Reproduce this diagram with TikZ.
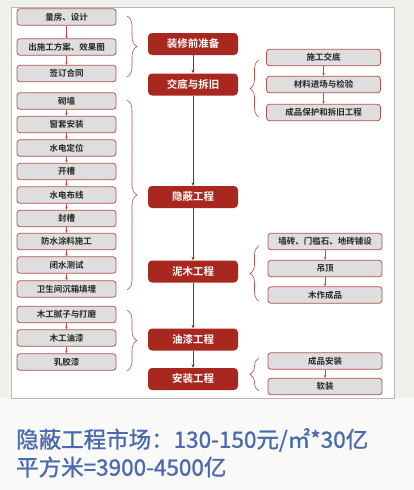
\documentclass[tikz,border=0pt]{standalone}
\usepackage{fontspec}
\setmainfont{Noto Sans CJK SC}[BoldFont={Noto Sans CJK SC Bold}]
\newfontfamily\notefont{Noto Sans CJK SC}[FakeBold=1.2]
\usetikzlibrary{arrows.meta,decorations.pathreplacing}
\definecolor{redbox}{HTML}{A8271F}
\definecolor{edgec}{HTML}{B5524A}
\definecolor{grayfill}{HTML}{DEDEDE}
\definecolor{bluetxt}{HTML}{4A6AB0}
\definecolor{bgc}{HTML}{F0F0ED}
\begin{document}
\begin{tikzpicture}[x=1pt,y=-1pt,
  graybox/.style={draw=edgec, line width=0.8pt, fill=grayfill, rounded corners=3pt,
    minimum height=16.5pt, inner sep=0pt, font=\fontsize{8.5}{9}\selectfont\bfseries, text=black!85},
  leftbox/.style={graybox, minimum width=99pt},
  rightbox/.style={graybox, minimum width=114pt},
  redbox/.style={fill=redbox, rounded corners=4pt, minimum width=90pt, minimum height=22pt,
    inner sep=0pt, font=\fontsize{10.5}{11}\selectfont\bfseries, text=white},
  arr/.style={draw=edgec, line width=0.6pt, -{Stealth[length=3pt,width=2.6pt]}},
  carr/.style={draw=redbox!90!black, line width=0.7pt, -{Stealth[length=3.5pt,width=3pt]}},
  brc/.style={draw=edgec, line width=0.6pt, decorate, decoration={brace, amplitude=#1}},
  note/.style={anchor=west, inner sep=0pt, text=bluetxt, font=\notefont\fontsize{22.5}{24}\selectfont}
]
\useasboundingbox (0,0) rectangle (414,490);
\fill[bgc] (0,0) rectangle (414,490);
\fill[white!60!bgc] (0,398) rectangle (414,490);
\draw[gray!55, fill=white, line width=0.8pt] (11,7) rectangle (394,398);

% left column
\node[leftbox] (l1) at (66.5,17) {量房、设计};
\node[leftbox] (l2) at (66.5,47) {出施工方案、效果图};
\node[leftbox] (l3) at (66.5,73.5) {签订合同};
\node[leftbox] (h1) at (66.5,101) {砌墙};
\node[leftbox] (h2) at (66.5,124.5) {窗套安装};
\node[leftbox] (h3) at (66.5,148) {水电定位};
\node[leftbox] (h4) at (66.5,171.5) {开槽};
\node[leftbox] (h5) at (66.5,195) {水电布线};
\node[leftbox] (h6) at (66.5,218.5) {封槽};
\node[leftbox] (h7) at (66.5,241.5) {防水涂料施工};
\node[leftbox] (h8) at (66.5,265) {闭水测试};
\node[leftbox] (h9) at (66.5,289) {卫生间沉箱填埋};
\node[leftbox] (p1) at (66.5,314.5) {木工腻子与打磨};
\node[leftbox] (p2) at (66.5,338) {木工油漆};
\node[leftbox] (p3) at (66.5,362) {乳胶漆};

\foreach \a/\b in {l1/l2,l2/l3,h1/h2,h2/h3,h3/h4,h4/h5,h5/h6,h6/h7,h7/h8,h8/h9,p1/p2,p2/p3}
  \draw[arr] (\a.south) -- (\b.north);

% center column
\node[redbox] (c1) at (193,44) {装修前准备};
\node[redbox] (c2) at (193,84.5) {交底与拆旧};
\node[redbox] (c3) at (193,197) {隐蔽工程};
\node[redbox] (c4) at (193,271.5) {泥木工程};
\node[redbox] (c5) at (193,339.5) {油漆工程};
\node[redbox] (c6) at (193,379) {安装工程};
\foreach \a/\b in {c1/c2,c2/c3,c3/c4,c4/c5,c5/c6}
  \draw[carr] (\a.south) -- (\b.north);

% right column
\node[rightbox] (r1) at (323.5,57.5) {施工交底};
\node[rightbox] (r2) at (323.5,84.5) {材料进场与检验};
\node[rightbox] (r3) at (323.5,112.5) {成品保护和拆旧工程};
\node[rightbox] (m1) at (325,241.5) {墙砖、门槛石、地砖铺设};
\node[rightbox] (m2) at (325,268.5) {吊顶};
\node[rightbox] (m3) at (325,295) {木作成品};
\node[rightbox] (a1) at (325,361) {成品安装};
\node[rightbox] (a2) at (325,386.5) {软装};
\foreach \a/\b in {r1/r2,r2/r3,m1/m2,m2/m3,a1/a2}
  \draw[arr] (\a.south) -- (\b.north);

% braces
\draw[brc=10pt] (127,16) -- (127,77);
\draw[brc=10pt] (127,100) -- (127,290);
\draw[brc=10pt] (127,310) -- (127,371);
\draw[brc=9pt] (259,117) -- (259,60);
\draw[brc=9pt] (259,301) -- (259,246);
\draw[brc=9pt] (259,391) -- (259,358);

% bottom note
\node[note] (n1) at (16,440) {隐蔽工程市场：130-150元/㎡*30亿};
\node[note] (n2) at (16,467) {平方米=3900-4500亿};
\end{tikzpicture}
\end{document}
